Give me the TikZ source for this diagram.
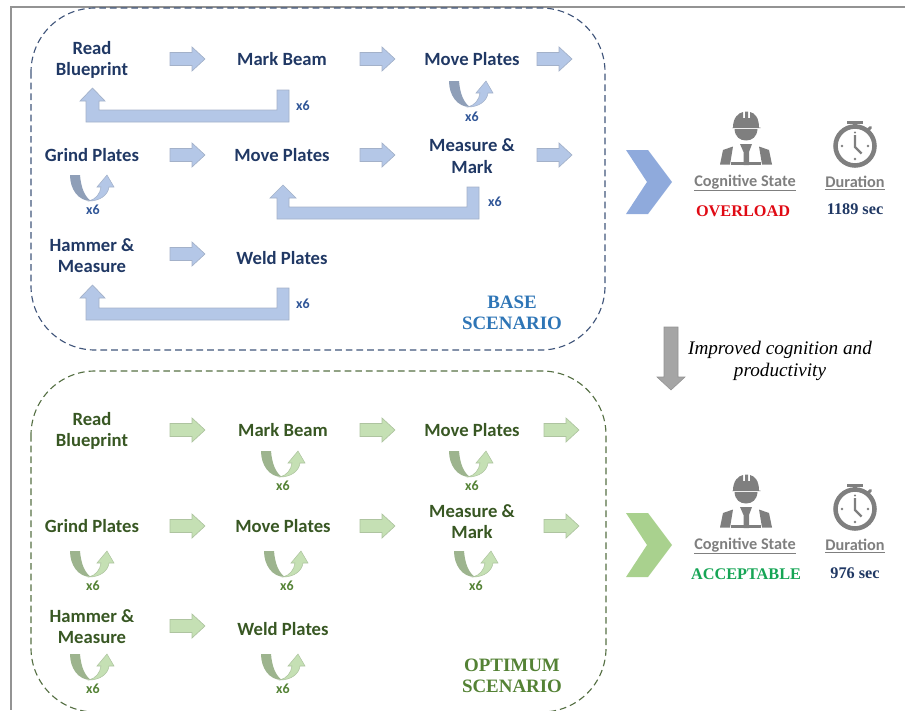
\documentclass[tikz,border=0pt]{standalone}
\usepackage{fontspec}
\setmainfont{Carlito}
\newfontfamily\serifbold{Liberation Serif}
\definecolor{bluetxt}{HTML}{203864}
\definecolor{bluex}{HTML}{2F5597}
\definecolor{bluefill}{HTML}{B4C7E7}
\definecolor{blueedge}{HTML}{A3B1C9}
\definecolor{bluedark}{HTML}{8F9FB8}
\definecolor{basehead}{HTML}{2E75B6}
\definecolor{greentxt}{HTML}{385723}
\definecolor{greenx}{HTML}{548235}
\definecolor{greenfill}{HTML}{C5E0B4}
\definecolor{greenedge}{HTML}{AEC4A0}
\definecolor{greendark}{HTML}{9DB48E}
\definecolor{icongray}{HTML}{7F7F7F}
\tikzset{
  x=0.75pt,y=-0.75pt,
  lbl/.style={font=\fontsize{14}{16.2}\selectfont\bfseries,align=center,inner sep=0pt},
  bluelbl/.style={lbl,text=bluetxt},
  greenlbl/.style={lbl,text=greentxt},
  xsix/.style={font=\fontsize{10.5}{11}\selectfont\bfseries,inner sep=0pt},
  headline/.style={font=\fontsize{12.2}{13}\selectfont\bfseries,text=icongray,inner sep=0pt},
  serifhead/.style={font=\serifbold\fontsize{14.2}{16}\selectfont\bfseries,align=center,inner sep=0pt},
  valtext/.style={font=\serifbold\fontsize{12.2}{14}\selectfont\bfseries,inner sep=0pt},
  blockblue/.style={fill=bluefill,draw=blueedge,line width=0.5pt},
  blockgreen/.style={fill=greenfill,draw=greenedge,line width=0.5pt},
  pics/rarrow/.style={code={
    \path[#1] (0,-6.5) -- (22,-6.5) -- (22,-12) -- (35,0) -- (22,12) -- (22,6.5) -- (0,6.5) -- cycle;
  }},
  pics/uturn/.style n args={3}{code={
    \path[fill=#2] (0,0) -- (10,0) .. controls (11,13) and (15,22) .. (21,26)
       .. controls (8,26) and (0,14) .. (0,0) -- cycle;
    \path[fill=#1,draw=#3,line width=0.4pt] (19,26) .. controls (26,24) and (30,19) .. (31,12)
       -- (27,12) -- (37,0) -- (44,12) -- (39,12)
       .. controls (38,20) and (30,26) .. (19,26) -- cycle;
  }},
  pics/worker/.style={code={
    \fill[icongray] (-13,-12.5) .. controls (-13,-22) and (-8,-27) .. (-3,-28) -- (-3,-22) -- (-1,-22) -- (-1,-28.5) -- (2,-28.5) -- (2,-22) -- (4,-22) -- (4,-28) .. controls (9,-27) and (13,-22) .. (13,-12.5) -- (14.5,-12.5) -- (14.5,-12) -- (-14,-12) -- cycle;
    \fill[icongray] (-11.5,-11) .. controls (-11,-3) and (-6,0.5) .. (0,0.5) .. controls (6,0.5) and (11,-3) .. (11.5,-11) -- cycle;
    \fill[icongray] (-6,4) -- (6,4) -- (3,12) -- (3,25) -- (-2.5,25) -- (-2.5,12) -- cycle;
    \fill[icongray] (-26,24.5) -- (-23,10) -- (-13,6.5) -- (-16,24.5) -- cycle;
    \fill[icongray] (26,24.5) -- (23,10) -- (13,6.5) -- (16,24.5) -- cycle;
    \fill[icongray] (-15,21.5) rectangle (15,24.5);
  }},
  pics/watch/.style={code={
    \draw[icongray,line width=3.4pt] (0,0) circle[radius=19.5];
    \fill[icongray] (-8,-25) rectangle (7.5,-22);
    \fill[icongray] (-2,-22) rectangle (2,-19);
    \draw[icongray,line width=2.2pt,line cap=round] (12.5,-15.5) -- (15.5,-18.5);
    \draw[icongray,line width=1.7pt] (0,-11) -- (0,1) -- (6.5,7.5);
    \fill[icongray] (-13,0) circle[radius=1.4] (13,0) circle[radius=1.4] (0,13) circle[radius=1.4] (0,-13.5) circle[radius=1.2];
  }},
}
\begin{document}
\begin{tikzpicture}
\useasboundingbox (0,0) rectangle (905,710);
\clip (0,0) rectangle (905,710);
% outer frame
\draw[color=gray!85,line width=1.3pt] (905,7) -- (11,7) -- (11,710);
% dashed containers
\draw[dash pattern=on 5pt off 3pt,color=bluetxt!85,line width=0.85pt,rounded corners=48pt] (31,8) rectangle (605,350);
\draw[dash pattern=on 5pt off 3pt,color=greentxt!85,line width=0.85pt,rounded corners=48pt] (31,371) rectangle (606,712);

% ---- base scenario labels
\node[bluelbl] (b1) at (92,60) {Read\\Blueprint};
\node[bluelbl] (b2) at (282,59.5) {Mark Beam};
\node[bluelbl] (b3) at (472,59.5) {Move Plates};
\node[bluelbl] (b4) at (92,155.5) {Grind Plates};
\node[bluelbl] (b5) at (282,155.5) {Move Plates};
\node[bluelbl] (b6) at (472,156) {Measure \&\\Mark};
\node[bluelbl] (b7) at (92,255.5) {Hammer \&\\Measure};
\node[bluelbl] (b8) at (282,258) {Weld Plates};
% block arrows
\foreach \px/\py in {170/59,360/59,537/59,170/155,360/155,537/155,170/254}
  \pic at (\px,\py) {rarrow={blockblue}};
% return arrows
\path[blockblue] (277,90) -- (289,90) -- (289,122) -- (86,122) -- (86,101) -- (80,101) -- (92.5,88) -- (105,101) -- (99,101) -- (99,110) -- (277,110) -- cycle;
\path[blockblue] (467,187) -- (479,187) -- (479,219) -- (277,219) -- (277,198) -- (270,198) -- (283,185) -- (296,198) -- (289,198) -- (289,207) -- (467,207) -- cycle;
\path[blockblue] (277,288) -- (289,288) -- (289,320) -- (86,320) -- (86,298) -- (80,298) -- (92.5,285) -- (105,298) -- (99,298) -- (99,308) -- (277,308) -- cycle;
\pic at (449,81) {uturn={bluefill}{bluedark}{blueedge}};
\pic at (70,175) {uturn={bluefill}{bluedark}{blueedge}};
\node[xsix,text=bluex] (bx1) at (303,105.5) {x6};
\node[xsix,text=bluex] (bx2) at (472,117) {x6};
\node[xsix,text=bluex] (bx3) at (93,210) {x6};
\node[xsix,text=bluex] (bx4) at (495,202) {x6};
\node[xsix,text=bluex] (bx5) at (303,303.5) {x6};
\node[serifhead,text=basehead] (bs) at (512,313) {BASE\\SCENARIO};

% ---- optimum scenario labels
\node[greenlbl] (g1) at (92,431) {Read\\Blueprint};
\node[greenlbl] (g2) at (283,430.5) {Mark Beam};
\node[greenlbl] (g3) at (472,430.5) {Move Plates};
\node[greenlbl] (g4) at (92,526.5) {Grind Plates};
\node[greenlbl] (g5) at (283,526.5) {Move Plates};
\node[greenlbl] (g6) at (472,521.5) {Measure \&\\Mark};
\node[greenlbl] (g7) at (92,626.5) {Hammer \&\\Measure};
\node[greenlbl] (g8) at (283,629) {Weld Plates};
\foreach \px/\py in {170/430,360/430,544/430,170/526,360/526,544/526,170/626}
  \pic at (\px,\py) {rarrow={blockgreen}};
\foreach \px/\py in {261/451,449/451,70/551,264/551,454/551,70/654,261/654}
  \pic at (\px,\py) {uturn={greenfill}{greendark}{greenedge}};
\node[xsix,text=greenx] (gx1) at (283,486) {x6};
\node[xsix,text=greenx] (gx2) at (472,486) {x6};
\node[xsix,text=greenx] (gx3) at (93,586) {x6};
\node[xsix,text=greenx] (gx4) at (287,586) {x6};
\node[xsix,text=greenx] (gx5) at (476,586) {x6};
\node[xsix,text=greenx] (gx6) at (93,689) {x6};
\node[xsix,text=greenx] (gx7) at (283,689) {x6};
\node[serifhead,text=greenx] (gs) at (512,676) {OPTIMUM\\SCENARIO};

% ---- chevrons
\fill[color={rgb,255:red,143;green,170;blue,220}] (626,150) -- (648,150) -- (672,182) -- (648,214) -- (626,214) -- (647,182) -- cycle;
\fill[color={rgb,255:red,169;green,209;blue,142}] (626,513) -- (648,513) -- (672,545) -- (648,577) -- (626,577) -- (647,545) -- cycle;

% ---- down arrow and caption
\path[fill=icongray!70,draw=icongray!85,line width=0.4pt] (664,327) -- (678,327) -- (678,377) -- (685,377) -- (671,390) -- (657,377) -- (664,377) -- cycle;
\node[font=\serifbold\fontsize{14.4}{16.4}\selectfont\itshape,align=center,inner sep=0pt] (cap) at (780,361) {Improved cognition and\\productivity};

% ---- result icons and texts
\pic at (746,140) {worker};
\pic at (855,146) {watch};
\pic at (746,503) {worker};
\pic at (855,509) {watch};
\node[headline] (c1) at (745,183) {\underline{Cognitive State}};
\node[headline] (d1) at (855,183) {\underline{Duration}};
\node[headline] (c2) at (745,546) {\underline{Cognitive State}};
\node[headline] (d2) at (855,546) {\underline{Duration}};
\node[valtext,text={rgb,255:red,224;green,10;blue,20}] (o1) at (743,211) {OVERLOAD};
\node[valtext,text=bluetxt] (t1) at (855,209.5) {1189 sec};
\node[valtext,text={rgb,255:red,22;green,165;blue,85}] (o2) at (746,574) {ACCEPTABLE};
\node[valtext,text=bluetxt] (t2) at (855,573) {976 sec};
\end{tikzpicture}
\end{document}
